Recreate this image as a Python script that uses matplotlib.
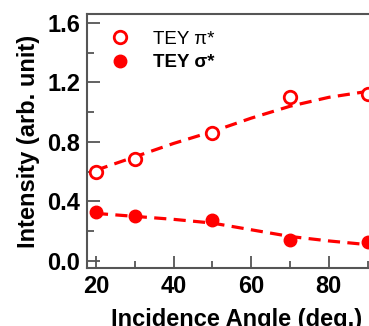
import matplotlib
matplotlib.use("Agg")
import matplotlib.pyplot as plt
from matplotlib.ticker import MultipleLocator

plt.rcParams['font.family'] = ['Liberation Sans', 'DejaVu Sans']

angles = [20, 30, 50, 70, 90]
tey_pi = [0.596, 0.683, 0.858, 1.105, 1.12]
tey_sigma = [0.327, 0.302, 0.273, 0.141, 0.125]

fit_angles = [20, 30, 40, 50, 60, 70, 80, 90, 95]
fit_pi = [0.61, 0.70, 0.79, 0.87, 0.96, 1.04, 1.10, 1.14, 1.15]
fit_sigma = [0.32, 0.30, 0.28, 0.255, 0.21, 0.165, 0.135, 0.11, 0.10]

red = "#ff0000"
frame = "#555555"

fig = plt.figure(figsize=(3.69, 3.26), dpi=100)
ax = fig.add_axes([87/369, 58/326, 300/369, 254/326])

ax.plot(fit_angles, fit_pi, "--", color=red, lw=2.3, dashes=(3.8, 2.3))
ax.plot(fit_angles, fit_sigma, "--", color=red, lw=2.3, dashes=(3.8, 2.3))
ax.plot(angles, tey_pi, "o", mfc="white", mec=red, mew=2.0, ms=9, label="TEY π*")
ax.plot(angles, tey_sigma, "o", color=red, ms=9, label="TEY σ*")

ax.set_xlim(17.7, 95)
ax.set_ylim(-0.047, 1.66)
ax.xaxis.set_major_locator(MultipleLocator(20))
ax.xaxis.set_minor_locator(MultipleLocator(10))
ax.yaxis.set_major_locator(MultipleLocator(0.4))
ax.yaxis.set_minor_locator(MultipleLocator(0.2))
ax.yaxis.set_major_formatter(plt.FormatStrFormatter("%.1f"))

for s in ax.spines.values():
    s.set_color(frame)
    s.set_linewidth(1.5)
ax.tick_params(which="both", direction="in", color=frame, width=1.3,
               labelsize=17, pad=5)
ax.tick_params(which="major", length=9)
ax.tick_params(which="minor", length=5)
for lbl in ax.get_xticklabels() + ax.get_yticklabels():
    lbl.set_fontweight("bold")

ax.set_xlabel("Incidence Angle (deg.)", fontsize=17, fontweight="bold", labelpad=7)
ax.set_ylabel("Intensity (arb. unit)", fontsize=17, fontweight="bold", labelpad=5)

leg = ax.legend(loc="upper left", frameon=False, fontsize=13.5, handlelength=1.9,
                handletextpad=0.8, borderaxespad=0, borderpad=0,
                bbox_to_anchor=(0.05, 0.935), labelspacing=0.35, numpoints=1)
leg.get_texts()[1].set_fontweight("bold")

fig.savefig("out.png", dpi=100)
